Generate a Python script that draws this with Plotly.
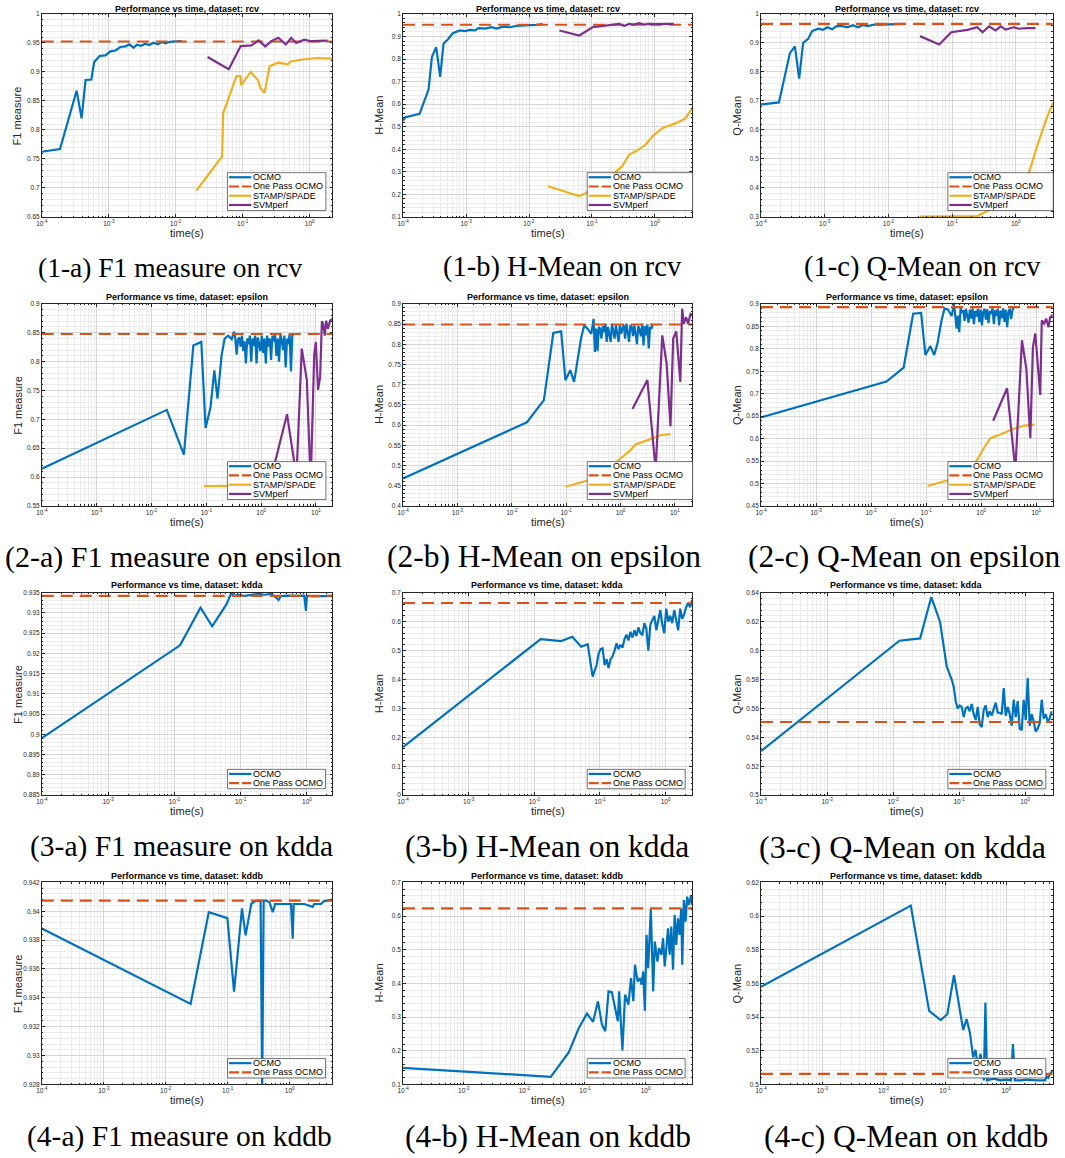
import plotly.graph_objects as go

W, H = 1065, 1158

# ======================= DATA =======================
# ---- rcv ----
rcv_f1_ocmo_t = [1.0e-4, 1.87e-4, 3.31e-4, 3.93e-4, 4.5e-4, 5.5e-4, 6.05e-4, 7.3e-4, 8.9e-4, 1.06e-3,
                 1.26e-3, 1.49e-3, 1.77e-3, 2.03e-3, 2.35e-3, 2.63e-3, 3.05e-3, 3.5e-3, 4.0e-3, 4.66e-3,
                 5.4e-3, 6.2e-3, 7.1e-3, 8.2e-3, 9.8e-3, 1.23e-2]
rcv_f1_ocmo_v = [0.7625, 0.767, 0.8675, 0.820, 0.886, 0.887, 0.917, 0.9275, 0.9286, 0.9355,
                 0.937, 0.943, 0.944, 0.9475, 0.9418, 0.947, 0.945, 0.9486, 0.9464, 0.9503,
                 0.9475, 0.9515, 0.9492, 0.952, 0.9526, 0.9532]
rcv_f1_onepass = 0.9525
rcv_f1_stamp_t = [0.0204, 0.0493, 0.051, 0.0805, 0.0923, 0.095, 0.1315, 0.169, 0.185, 0.212, 0.252, 0.335,
                  0.471, 0.52, 0.73, 1.05, 1.3, 2.2]
rcv_f1_stamp_v = [0.6957, 0.7545, 0.8287, 0.8927, 0.8927, 0.8773, 0.900, 0.886, 0.8715, 0.864, 0.9098, 0.916,
                  0.913, 0.918, 0.921, 0.923, 0.924, 0.923]
rcv_f1_svm_t = [0.0299, 0.0619, 0.0933, 0.1346, 0.173, 0.217, 0.268, 0.34, 0.44, 0.53, 0.63, 0.83, 1.05, 1.39, 1.85]
rcv_f1_svm_v = [0.9258, 0.9047, 0.9446, 0.9458, 0.9543, 0.944, 0.9532, 0.9589, 0.9475, 0.9589, 0.950, 0.9555,
                0.953, 0.954, 0.954]

rcv_h_ocmo_t = [1.0e-4, 1.09e-4, 1.83e-4, 2.54e-4, 2.87e-4, 3.36e-4, 3.89e-4, 4.39e-4, 5.26e-4, 6.16e-4,
                8.04e-4, 9.6e-4, 1.16e-3, 1.39e-3, 1.57e-3, 2.0e-3, 2.54e-3, 3.05e-3, 3.89e-3, 4.96e-3,
                6.3e-3, 8.0e-3, 1.02e-2, 1.31e-2, 1.66e-2]
rcv_h_ocmo_v = [0.527, 0.542, 0.557, 0.665, 0.809, 0.853, 0.721, 0.868, 0.890, 0.915,
                0.927, 0.924, 0.9295, 0.927, 0.937, 0.9354, 0.941, 0.9354, 0.944, 0.941,
                0.947, 0.947, 0.950, 0.9515, 0.9545]
rcv_h_onepass = 0.952
rcv_h_stamp_t = [0.0200, 0.0629, 0.079, 0.147, 0.30, 0.39, 0.495, 0.71, 0.91, 1.31, 2.12, 3.05, 3.89]
rcv_h_stamp_v = [0.2365, 0.1925, 0.205, 0.25, 0.324, 0.376, 0.391, 0.42, 0.457, 0.494, 0.515, 0.537, 0.582]
rcv_h_svm_t = [0.0305, 0.063, 0.102, 0.147, 0.212, 0.27, 0.324, 0.39, 0.46, 0.56, 0.67, 0.80, 1.02, 1.31, 1.99]
rcv_h_svm_v = [0.9266, 0.9046, 0.941, 0.9457, 0.953, 0.956, 0.947, 0.956, 0.953, 0.959, 0.953, 0.956,
               0.9545, 0.956, 0.956]

rcv_q_ocmo_t = [1.0e-4, 1.91e-4, 2.84e-4, 3.4e-4, 3.97e-4, 4.58e-4, 5.5e-4, 6.34e-4, 7.87e-4, 9.4e-4,
                1.1e-3, 1.3e-3, 1.52e-3, 1.82e-3, 2.26e-3, 2.77e-3, 3.32e-3, 3.97e-3, 4.75e-3, 6.0e-3,
                7.7e-3, 9.8e-3, 1.67e-2]
rcv_q_ocmo_v = [0.688, 0.695, 0.865, 0.888, 0.777, 0.900, 0.914, 0.941, 0.949, 0.945,
                0.954, 0.947, 0.957, 0.959, 0.954, 0.961, 0.954, 0.962, 0.958, 0.9635,
                0.9635, 0.9646, 0.9657]
rcv_q_onepass = 0.9657
rcv_q_stamp_t = [0.0313, 0.059, 0.137, 0.249, 0.453, 0.733, 1.05, 1.6, 2.15, 2.91, 3.83]
rcv_q_stamp_v = [0.301, 0.301, 0.302, 0.3035, 0.332, 0.366, 0.40, 0.452, 0.543, 0.629, 0.694]
rcv_q_svm_t = [0.0313, 0.0627, 0.097, 0.174, 0.249, 0.30, 0.38, 0.48, 0.58, 0.69, 0.93, 1.11, 1.5, 2.03]
rcv_q_svm_v = [0.9235, 0.895, 0.937, 0.945, 0.954, 0.937, 0.957, 0.943, 0.957, 0.946, 0.954, 0.949, 0.951, 0.951]

# ---- epsilon ----
eps_ocmo_t = [1.0e-4, 0.019, 0.039, 0.058, 0.081, 0.097, 0.119, 0.14, 0.16, 0.19, 0.216, 0.25, 0.29, 0.32,
              0.3378, 0.357, 0.3776, 0.3993, 0.422, 0.4462, 0.4718, 0.4987, 0.5273, 0.5574,
              0.5893, 0.6231, 0.6587, 0.6964, 0.7363, 0.7784, 0.823, 0.870, 0.920, 0.9725,
              1.028, 1.087, 1.149, 1.215, 1.285, 1.358, 1.436, 1.518, 1.605, 1.697,
              1.794, 1.897, 2.005, 2.120, 2.241, 2.369, 2.505, 2.649, 2.800, 2.960,
              3.130, 3.308, 3.498, 3.698, 3.909]
eps_f1_ocmo_v = [0.6143, 0.7164, 0.639, 0.828, 0.834, 0.685, 0.720, 0.785, 0.736, 0.811, 0.84, 0.845, 0.839, 0.852,
                 0.84, 0.812, 0.838, 0.842, 0.826, 0.845, 0.818, 0.835, 0.797, 0.840,
                 0.83, 0.845, 0.80, 0.84, 0.827, 0.845, 0.797, 0.842, 0.83, 0.818,
                 0.845, 0.815, 0.84, 0.797, 0.845, 0.826, 0.84, 0.803, 0.845, 0.835,
                 0.848, 0.81, 0.84, 0.80, 0.846, 0.838, 0.82, 0.845, 0.79, 0.84,
                 0.83, 0.848, 0.783, 0.845, 0.849]
eps_f1_onepass = 0.8478
eps_f1_stamp_t = [0.091, 0.3, 1.0, 3.0, 8.0]
eps_f1_stamp_v = [0.5845, 0.585, 0.5855, 0.586, 0.586]
eps_f1_svm_t = [1.6, 2.96, 4.4, 5.5, 6.8, 8.0, 9.27, 9.93, 10.9, 11.9, 12.8, 13.4, 14.5, 15.3, 16.5, 18.1, 19.7]
eps_f1_svm_v = [0.607, 0.709, 0.60, 0.8225, 0.768, 0.59, 0.811, 0.834, 0.751, 0.774, 0.870, 0.866, 0.845,
                0.871, 0.857, 0.871, 0.874]

eps_h_ocmo_v = [0.468, 0.607, 0.662, 0.828, 0.832, 0.711, 0.736, 0.707, 0.756, 0.818, 0.847, 0.838, 0.826, 0.863,
                0.781, 0.839, 0.783, 0.843, 0.838, 0.814, 0.845, 0.830, 0.851, 0.806,
                0.843, 0.825, 0.806, 0.851, 0.830, 0.814, 0.847, 0.822, 0.806, 0.847,
                0.826, 0.840, 0.847, 0.814, 0.851, 0.83, 0.806, 0.847, 0.843, 0.82,
                0.847, 0.826, 0.80, 0.845, 0.836, 0.82, 0.851, 0.797, 0.845, 0.822,
                0.849, 0.79, 0.843, 0.838, 0.851]
eps_h_onepass = 0.849
eps_h_stamp_t = [0.097, 0.3, 0.5, 0.946, 1.44, 1.9, 2.5, 3.85, 5.5, 8.3]
eps_h_stamp_v = [0.4475, 0.466, 0.48, 0.515, 0.535, 0.552, 0.558, 0.568, 0.575, 0.578]
eps_h_svm_t = [1.66, 3.12, 4.43, 5.86, 7.05, 8.3, 9.3, 10.6, 12.6, 13.6, 14.6, 16.1, 17.5, 19.4, 20.7]
eps_h_svm_v = [0.64, 0.7115, 0.49, 0.822, 0.7525, 0.597, 0.814, 0.832, 0.707, 0.888, 0.851, 0.867, 0.851,
               0.875, 0.873]

eps_q_ocmo_v = [0.647, 0.727, 0.758, 0.878, 0.88, 0.786, 0.806, 0.786, 0.811, 0.863, 0.89, 0.887, 0.873, 0.9,
                0.874, 0.845, 0.874, 0.837, 0.89, 0.88, 0.886, 0.862, 0.889, 0.875,
                0.858, 0.887, 0.867, 0.89, 0.855, 0.884, 0.872, 0.889, 0.86, 0.887,
                0.852, 0.882, 0.889, 0.865, 0.888, 0.857, 0.884, 0.878, 0.89, 0.855,
                0.886, 0.873, 0.889, 0.852, 0.885, 0.868, 0.89, 0.86, 0.887, 0.848,
                0.882, 0.889, 0.866, 0.886, 0.893]
eps_q_onepass = 0.8926
eps_q_stamp_t = [0.106, 0.3, 0.6, 0.85, 1.12, 1.47, 2.0, 3.9, 6.0, 9.3]
eps_q_stamp_v = [0.4943, 0.51, 0.53, 0.553, 0.579, 0.601, 0.607, 0.622, 0.629, 0.631]
eps_q_svm_t = [1.65, 2.95, 4.17, 5.5, 6.6, 7.8, 8.7, 9.6, 11.8, 12.6, 13.9, 15.2, 16.7, 17.9, 20.0]
eps_q_svm_v = [0.6396, 0.712, 0.53, 0.819, 0.756, 0.601, 0.804, 0.834, 0.697, 0.863, 0.856, 0.867, 0.848,
               0.87, 0.876]

# ---- kdda ----
kdda_f1_ocmo_t = [1.0e-4, 0.01216, 0.0248, 0.0372, 0.061, 0.0724, 0.0813, 0.0912, 0.115, 0.145, 0.182, 0.229,
                  0.288, 0.343, 0.372, 0.407, 0.513, 0.724, 0.912, 0.966, 1.0, 1.29, 1.82, 2.43]
kdda_f1_ocmo_v = [0.8991, 0.922, 0.9313, 0.9267, 0.9321, 0.935, 0.9342, 0.9345, 0.9342, 0.9345, 0.9347, 0.9345,
                  0.9347, 0.9338, 0.9332, 0.9342, 0.9343, 0.9342, 0.9343, 0.9305, 0.9342, 0.9341, 0.9342, 0.9342]
kdda_f1_onepass = 0.9342

kdda_ocmo_t = [1.0e-4, 0.0125, 0.0257, 0.038, 0.0516, 0.065,
               0.0774, 0.0830, 0.0890, 0.0954, 0.1023, 0.1097, 0.1177, 0.1262, 0.1353, 0.1451,
               0.1555, 0.1668, 0.1789, 0.1918, 0.2056, 0.2205, 0.2364, 0.2535, 0.2718, 0.2914,
               0.3125, 0.3351, 0.3593, 0.3853, 0.4131, 0.4430, 0.4750, 0.5093, 0.5461, 0.5856,
               0.6281, 0.6733, 0.7221, 0.7743, 0.8302, 0.8903, 0.9546, 1.0235, 1.0975, 1.1768,
               1.2618, 1.3530, 1.4508, 1.5556, 1.6681, 1.7886, 1.9179, 2.0565, 2.2051, 2.3645, 2.5351]
kdda_h_ocmo_v = [0.166, 0.5396, 0.533, 0.5476, 0.5133, 0.522,
                 0.41, 0.43, 0.45, 0.49, 0.505, 0.508, 0.45, 0.47, 0.44, 0.47,
                 0.48, 0.50, 0.525, 0.505, 0.52, 0.51, 0.54, 0.555, 0.535, 0.565,
                 0.545, 0.57, 0.55, 0.58, 0.56, 0.555, 0.595, 0.575, 0.50, 0.59,
                 0.605, 0.62, 0.57, 0.61, 0.64, 0.59, 0.56, 0.645, 0.60, 0.62,
                 0.595, 0.64, 0.61, 0.57, 0.645, 0.61, 0.625, 0.65, 0.665, 0.65, 0.675]
kdda_h_onepass = 0.6645
kdda_q_ocmo_v = [0.5305, 0.6068, 0.6084, 0.637, 0.6198, 0.589,
                 0.58, 0.575, 0.565, 0.56, 0.562, 0.561, 0.554, 0.56, 0.561, 0.558,
                 0.563, 0.556, 0.552, 0.561, 0.549, 0.547, 0.559, 0.562, 0.554, 0.558,
                 0.555, 0.56, 0.564, 0.557, 0.557, 0.556, 0.574, 0.555, 0.561, 0.556,
                 0.548, 0.566, 0.554, 0.565, 0.546, 0.545, 0.566, 0.552, 0.581, 0.548,
                 0.556, 0.551, 0.544, 0.546, 0.55, 0.566, 0.553, 0.556, 0.551, 0.553, 0.558]
kdda_q_onepass = 0.5506

# ---- kddb ----
kddb_f1_ocmo_t = [1.0e-4, 0.0252, 0.0495, 0.0988, 0.1265, 0.1466, 0.17, 0.1945, 0.24, 0.278, 0.339, 0.36, 0.38,
                  0.417, 0.472, 0.533, 0.582, 0.726, 1.05, 1.12, 1.16, 1.72, 2.34, 2.49, 3.18, 3.6, 4.9]
kddb_f1_ocmo_v = [0.9388, 0.93358, 0.93993, 0.93952, 0.93443, 0.9372, 0.9402, 0.93833, 0.94051, 0.9407, 0.94074,
                  0.9275, 0.94074, 0.94074, 0.94062, 0.93993, 0.9405, 0.9405, 0.9405, 0.9381, 0.9405, 0.9405,
                  0.9403, 0.9405, 0.9405, 0.9407, 0.9408]
kddb_f1_onepass = 0.94074

kddb_h_ocmo_t = [1.0e-4, 0.0273, 0.0544, 0.0794, 0.108, 0.136, 0.164,
                 0.1909, 0.2163, 0.2452, 0.278, 0.3151, 0.3485, 0.3664, 0.4153, 0.4594, 0.5207,
                 0.5757, 0.6287, 0.6691, 0.7398, 0.8080, 0.8603, 0.9160, 0.9752, 1.038, 1.106,
                 1.222, 1.335, 1.421, 1.571, 1.673, 1.826, 1.945, 2.071, 2.205, 2.348,
                 2.499, 2.661, 2.834, 3.017, 3.213, 3.421, 3.642, 3.879, 4.027, 4.288,
                 4.565, 4.861, 5.175, 5.649, 5.866]
kddb_h_ocmo_v = [0.1493, 0.1227, 0.1957, 0.2678, 0.3102, 0.2855, 0.3467,
                 0.2776, 0.2579, 0.3763, 0.374, 0.327, 0.2875, 0.3763, 0.2007, 0.3664, 0.337,
                 0.4158, 0.347, 0.4553, 0.406, 0.416, 0.396, 0.4355, 0.319, 0.5441, 0.4454,
                 0.621, 0.3763, 0.5243, 0.465, 0.5046, 0.485, 0.5342, 0.4503, 0.5046, 0.5638,
                 0.485, 0.5688, 0.4405, 0.6033, 0.5145, 0.5934, 0.5441, 0.623, 0.4553, 0.6477,
                 0.5836, 0.6576, 0.6329, 0.6625, 0.6329]
kddb_h_onepass = 0.623

kddb_q_ocmo_t = [1.0e-4, 0.0277, 0.0551, 0.085, 0.109, 0.14, 0.198, 0.2244, 0.254, 0.288, 0.314, 0.343, 0.379,
                 0.429, 0.456, 0.485, 0.623, 0.8, 1.03, 1.19, 1.28, 1.38, 1.69, 2.16, 3.14, 4.29, 4.56, 4.85,
                 5.17, 5.71]
kddb_q_ocmo_v = [0.558, 0.6062, 0.5437, 0.5382, 0.5417, 0.5649, 0.5323, 0.5388, 0.5309, 0.5161, 0.5205, 0.5102,
                 0.5181, 0.5024, 0.5486, 0.5024, 0.5034, 0.5024, 0.5028, 0.5024, 0.524, 0.5024, 0.5024, 0.5028,
                 0.5024, 0.5024, 0.5047, 0.504, 0.5063, 0.5083]
kddb_q_onepass = 0.5063

x_tick_vals = [1e-4, 1e-3, 1e-2, 1e-1, 1, 10]
x_tick_text = ["10<sup>-4</sup>", "10<sup>-3</sup>", "10<sup>-2</sup>", "10<sup>-1</sup>",
               "10<sup>0</sup>", "10<sup>1</sup>"]
series_names = ["OCMO", "One Pass OCMO", "STAMP/SPADE", "SVMperf"]

# ======================= STYLE / LAYOUT =======================
C_OCMO, C_ONE, C_STAMP, C_SVM = "#0072BD", "#D95319", "#EDB120", "#7E2F8E"
COLORS = [C_OCMO, C_ONE, C_STAMP, C_SVM]
FONT = "Liberation Sans, Arial, Helvetica, sans-serif"
SERIF = "Liberation Serif, Times New Roman, serif"
AXC = "#262626"

COL_X = [(36.0, 328.3), (399.3, 690.0), (759.3, 1052.7)]
ROW_Y = [(10.0, 214.3), (301.7, 505.0), (592.3, 796.0), (883.7, 1087.0)]
TITLE_Y = [4.8, 295.0, 585.0, 877.0]
CAP_Y = [265, 556, 848, 1139]
CAP_X = [[164.5, 559.5, 921.5], [168.5, 541.5, 903.5], [176, 544, 902], [174.5, 545.5, 905.5]]
CAP_SIZE = [[27.5, 28.5, 28.5], [30, 31.5, 31.5], [29.5, 31.5, 32], [29.5, 31.5, 31.5]]


def px(x):
    return x / W


def py(y):
    return 1 - y / H


panels = [
    dict(r=0, c=0, ds="rcv", ylab="F1 measure", yr=(0.65, 1.0), dt=0.05, mdt=0.01, xmax=0.34,
         ocmo=(rcv_f1_ocmo_t, rcv_f1_ocmo_v), one=rcv_f1_onepass,
         stamp=(rcv_f1_stamp_t, rcv_f1_stamp_v), svm=(rcv_f1_svm_t, rcv_f1_svm_v),
         cap="(1-a) F1 measure on rcv"),
    dict(r=0, c=1, ds="rcv", ylab="H-Mean", yr=(0.1, 1.0), dt=0.1, mdt=0.02, xmax=0.59,
         ocmo=(rcv_h_ocmo_t, rcv_h_ocmo_v), one=rcv_h_onepass,
         stamp=(rcv_h_stamp_t, rcv_h_stamp_v), svm=(rcv_h_svm_t, rcv_h_svm_v),
         cap="(1-b) H-Mean on rcv"),
    dict(r=0, c=2, ds="rcv", ylab="Q-Mean", yr=(0.3, 1.0), dt=0.1, mdt=0.02, xmax=0.58,
         ocmo=(rcv_q_ocmo_t, rcv_q_ocmo_v), one=rcv_q_onepass,
         stamp=(rcv_q_stamp_t, rcv_q_stamp_v), svm=(rcv_q_svm_t, rcv_q_svm_v),
         cap="(1-c) Q-Mean on rcv"),
    dict(r=1, c=0, ds="epsilon", ylab="F1 measure", yr=(0.55, 0.9), dt=0.05, mdt=0.01, xmax=1.30,
         ocmo=(eps_ocmo_t, eps_f1_ocmo_v), one=eps_f1_onepass,
         stamp=(eps_f1_stamp_t, eps_f1_stamp_v), svm=(eps_f1_svm_t, eps_f1_svm_v),
         cap="(2-a) F1 measure on epsilon"),
    dict(r=1, c=1, ds="epsilon", ylab="H-Mean", yr=(0.4, 0.9), dt=0.05, mdt=0.01, xmax=1.317,
         ocmo=(eps_ocmo_t, eps_h_ocmo_v), one=eps_h_onepass,
         stamp=(eps_h_stamp_t, eps_h_stamp_v), svm=(eps_h_svm_t, eps_h_svm_v),
         cap="(2-b) H-Mean on epsilon"),
    dict(r=1, c=2, ds="epsilon", ylab="Q-Mean", yr=(0.45, 0.9), dt=0.05, mdt=0.01, xmax=1.30,
         ocmo=(eps_ocmo_t, eps_q_ocmo_v), one=eps_q_onepass,
         stamp=(eps_q_stamp_t, eps_q_stamp_v), svm=(eps_q_svm_t, eps_q_svm_v),
         cap="(2-c) Q-Mean on epsilon"),
    dict(r=2, c=0, ds="kdda", ylab="F1 measure", yr=(0.885, 0.935), dt=0.005, mdt=0.001, xmax=0.385,
         ocmo=(kdda_f1_ocmo_t, kdda_f1_ocmo_v), one=kdda_f1_onepass, stamp=None, svm=None,
         cap="(3-a) F1 measure on kdda"),
    dict(r=2, c=1, ds="kdda", ylab="H-Mean", yr=(0.0, 0.7), dt=0.1, mdt=0.02, xmax=0.404,
         ocmo=(kdda_ocmo_t, kdda_h_ocmo_v), one=kdda_h_onepass, stamp=None, svm=None,
         cap="(3-b) H-Mean on kdda"),
    dict(r=2, c=2, ds="kdda", ylab="Q-Mean", yr=(0.5, 0.64), dt=0.02, mdt=0.004, xmax=0.42,
         ocmo=(kdda_ocmo_t, kdda_q_ocmo_v), one=kdda_q_onepass, stamp=None, svm=None,
         cap="(3-c) Q-Mean on kdda"),
    dict(r=3, c=0, ds="kddb", ylab="F1 measure", yr=(0.928, 0.942), dt=0.002, mdt=0.0004, xmax=0.69,
         ocmo=(kddb_f1_ocmo_t, kddb_f1_ocmo_v), one=kddb_f1_onepass, stamp=None, svm=None,
         cap="(4-a) F1 measure on kddb"),
    dict(r=3, c=1, ds="kddb", ylab="H-Mean", yr=(0.1, 0.7), dt=0.1, mdt=0.02, xmax=0.768,
         ocmo=(kddb_h_ocmo_t, kddb_h_ocmo_v), one=kddb_h_onepass, stamp=None, svm=None,
         cap="(4-b) H-Mean on kddb"),
    dict(r=3, c=2, ds="kddb", ylab="Q-Mean", yr=(0.5, 0.62), dt=0.02, mdt=0.004, xmax=0.757,
         ocmo=(kddb_q_ocmo_t, kddb_q_ocmo_v), one=kddb_q_onepass, stamp=None, svm=None,
         cap="(4-c) Q-Mean on kddb"),
]

minor_x = [m * 10.0 ** e for e in range(-4, 2) for m in range(2, 10)]

fig = go.Figure()
layout = dict(width=W, height=H, margin=dict(l=0, r=0, t=0, b=0),
              paper_bgcolor="white", plot_bgcolor="white", showlegend=False)
shapes, annotations = [], []

for k, p in enumerate(panels, start=1):
    r, c = p["r"], p["c"]
    x0, x1 = COL_X[c]
    y0, y1 = ROW_Y[r]
    xa = "xaxis" if k == 1 else f"xaxis{k}"
    ya = "yaxis" if k == 1 else f"yaxis{k}"
    xr = "x" if k == 1 else f"x{k}"
    yr = "y" if k == 1 else f"y{k}"

    xend = 10 ** p["xmax"]
    series = [(p["ocmo"], C_OCMO, "solid"),
              (([1e-4, xend], [p["one"], p["one"]]), C_ONE, "12px,7px")]
    if p["stamp"] is not None:
        series.append((p["stamp"], C_STAMP, "solid"))
        series.append((p["svm"], C_SVM, "solid"))
    for (t, v), col, dash in series:
        fig.add_trace(go.Scatter(x=t, y=v, mode="lines", xaxis=xr, yaxis=yr,
                                 line=dict(color=col, width=2.2, dash=dash),
                                 hoverinfo="skip", showlegend=False))

    layout[xa] = dict(type="log", range=[-4, p["xmax"]], domain=[px(x0), px(x1)], anchor=yr,
                      tickmode="array", tickvals=x_tick_vals, ticktext=x_tick_text,
                      ticks="inside", ticklen=3, tickwidth=0.6, tickcolor=AXC,
                      showline=True, linecolor=AXC, linewidth=0.7, mirror="ticks",
                      showgrid=True, gridcolor="#d6d6d6", gridwidth=0.6, zeroline=False,
                      tickfont=dict(family=FONT, size=6.5, color=AXC),
                      minor=dict(tickmode="array", tickvals=minor_x, ticks="inside", ticklen=1.6,
                                 tickcolor=AXC, showgrid=True, gridcolor="#ececec", gridwidth=0.6))
    layout[ya] = dict(range=list(p["yr"]), domain=[py(y1), py(y0)], anchor=xr,
                      tick0=p["yr"][0], dtick=p["dt"],
                      ticks="inside", ticklen=3, tickwidth=0.6, tickcolor=AXC,
                      showline=True, linecolor=AXC, linewidth=0.7, mirror="ticks",
                      showgrid=True, gridcolor="#d6d6d6", gridwidth=0.6, zeroline=False,
                      tickfont=dict(family=FONT, size=6.5, color=AXC),
                      minor=dict(tick0=p["yr"][0], dtick=p["mdt"], ticks="inside", ticklen=1.6,
                                 tickcolor=AXC, showgrid=True, gridcolor="#ececec", gridwidth=0.6))

    # panel title
    annotations.append(dict(x=px((x0 + x1) / 2), y=py(TITLE_Y[r]), xref="paper", yref="paper",
                            text=f"<b>Performance vs time, dataset: {p['ds']}</b>", showarrow=False,
                            xanchor="center", yanchor="middle",
                            font=dict(family=FONT, size=9, color="black")))
    # axis labels
    annotations.append(dict(x=px((x0 + x1) / 2), y=py(y1 + 15.7), xref="paper", yref="paper",
                            text="time(s)", showarrow=False, xanchor="center", yanchor="middle",
                            font=dict(family=FONT, size=11, color=AXC)))
    annotations.append(dict(x=px(x0 - 24), y=py((y0 + y1) / 2), xref="paper", yref="paper",
                            text=p["ylab"], showarrow=False, textangle=-90,
                            xanchor="center", yanchor="middle",
                            font=dict(family=FONT, size=11, color=AXC)))
    # caption
    annotations.append(dict(x=px(CAP_X[r][c]), y=py(CAP_Y[r]), xref="paper", yref="paper",
                            text=p["cap"], showarrow=False, xanchor="center", yanchor="middle",
                            font=dict(family=SERIF, size=CAP_SIZE[r][c], color="black")))

    # legend box (drawn with shapes + text)
    n = 4 if p["stamp"] is not None else 2
    if n == 4:
        bw = 99 if c == 0 else 106
        bright = x1 - 6.6 if c == 0 else x1 + 0.5
    else:
        bw = 98.5
        bright = x1 - 7
    bh = 9.3 * (n - 1) + 10.2
    bbot = y1 - 6.5
    bleft = bright - bw
    btop = bbot - bh
    shapes.append(dict(type="rect", xref="paper", yref="paper", layer="above",
                       x0=px(bleft), x1=px(bright), y0=py(bbot), y1=py(btop),
                       fillcolor="white", line=dict(color="#3a3a3a", width=0.7)))
    for i in range(n):
        yy = btop + 4.6 + 9.3 * i
        shapes.append(dict(type="line", xref="paper", yref="paper", layer="above",
                           x0=px(bleft + 1.5), x1=px(bleft + 24), y0=py(yy), y1=py(yy),
                           line=dict(color=COLORS[i], width=2.2, dash="10px,3px" if i == 1 else "solid")))
        annotations.append(dict(x=px(bleft + 24.5), y=py(yy), xref="paper", yref="paper",
                                text=series_names[i], showarrow=False, xanchor="left", yanchor="middle",
                                borderpad=0, font=dict(family=FONT, size=9, color="black")))

layout["shapes"] = shapes
layout["annotations"] = annotations
fig.update_layout(**layout)
fig.write_html("out.html", config={"displayModeBar": False},
               post_script="document.body.style.margin='0';document.body.style.overflow='hidden';")
